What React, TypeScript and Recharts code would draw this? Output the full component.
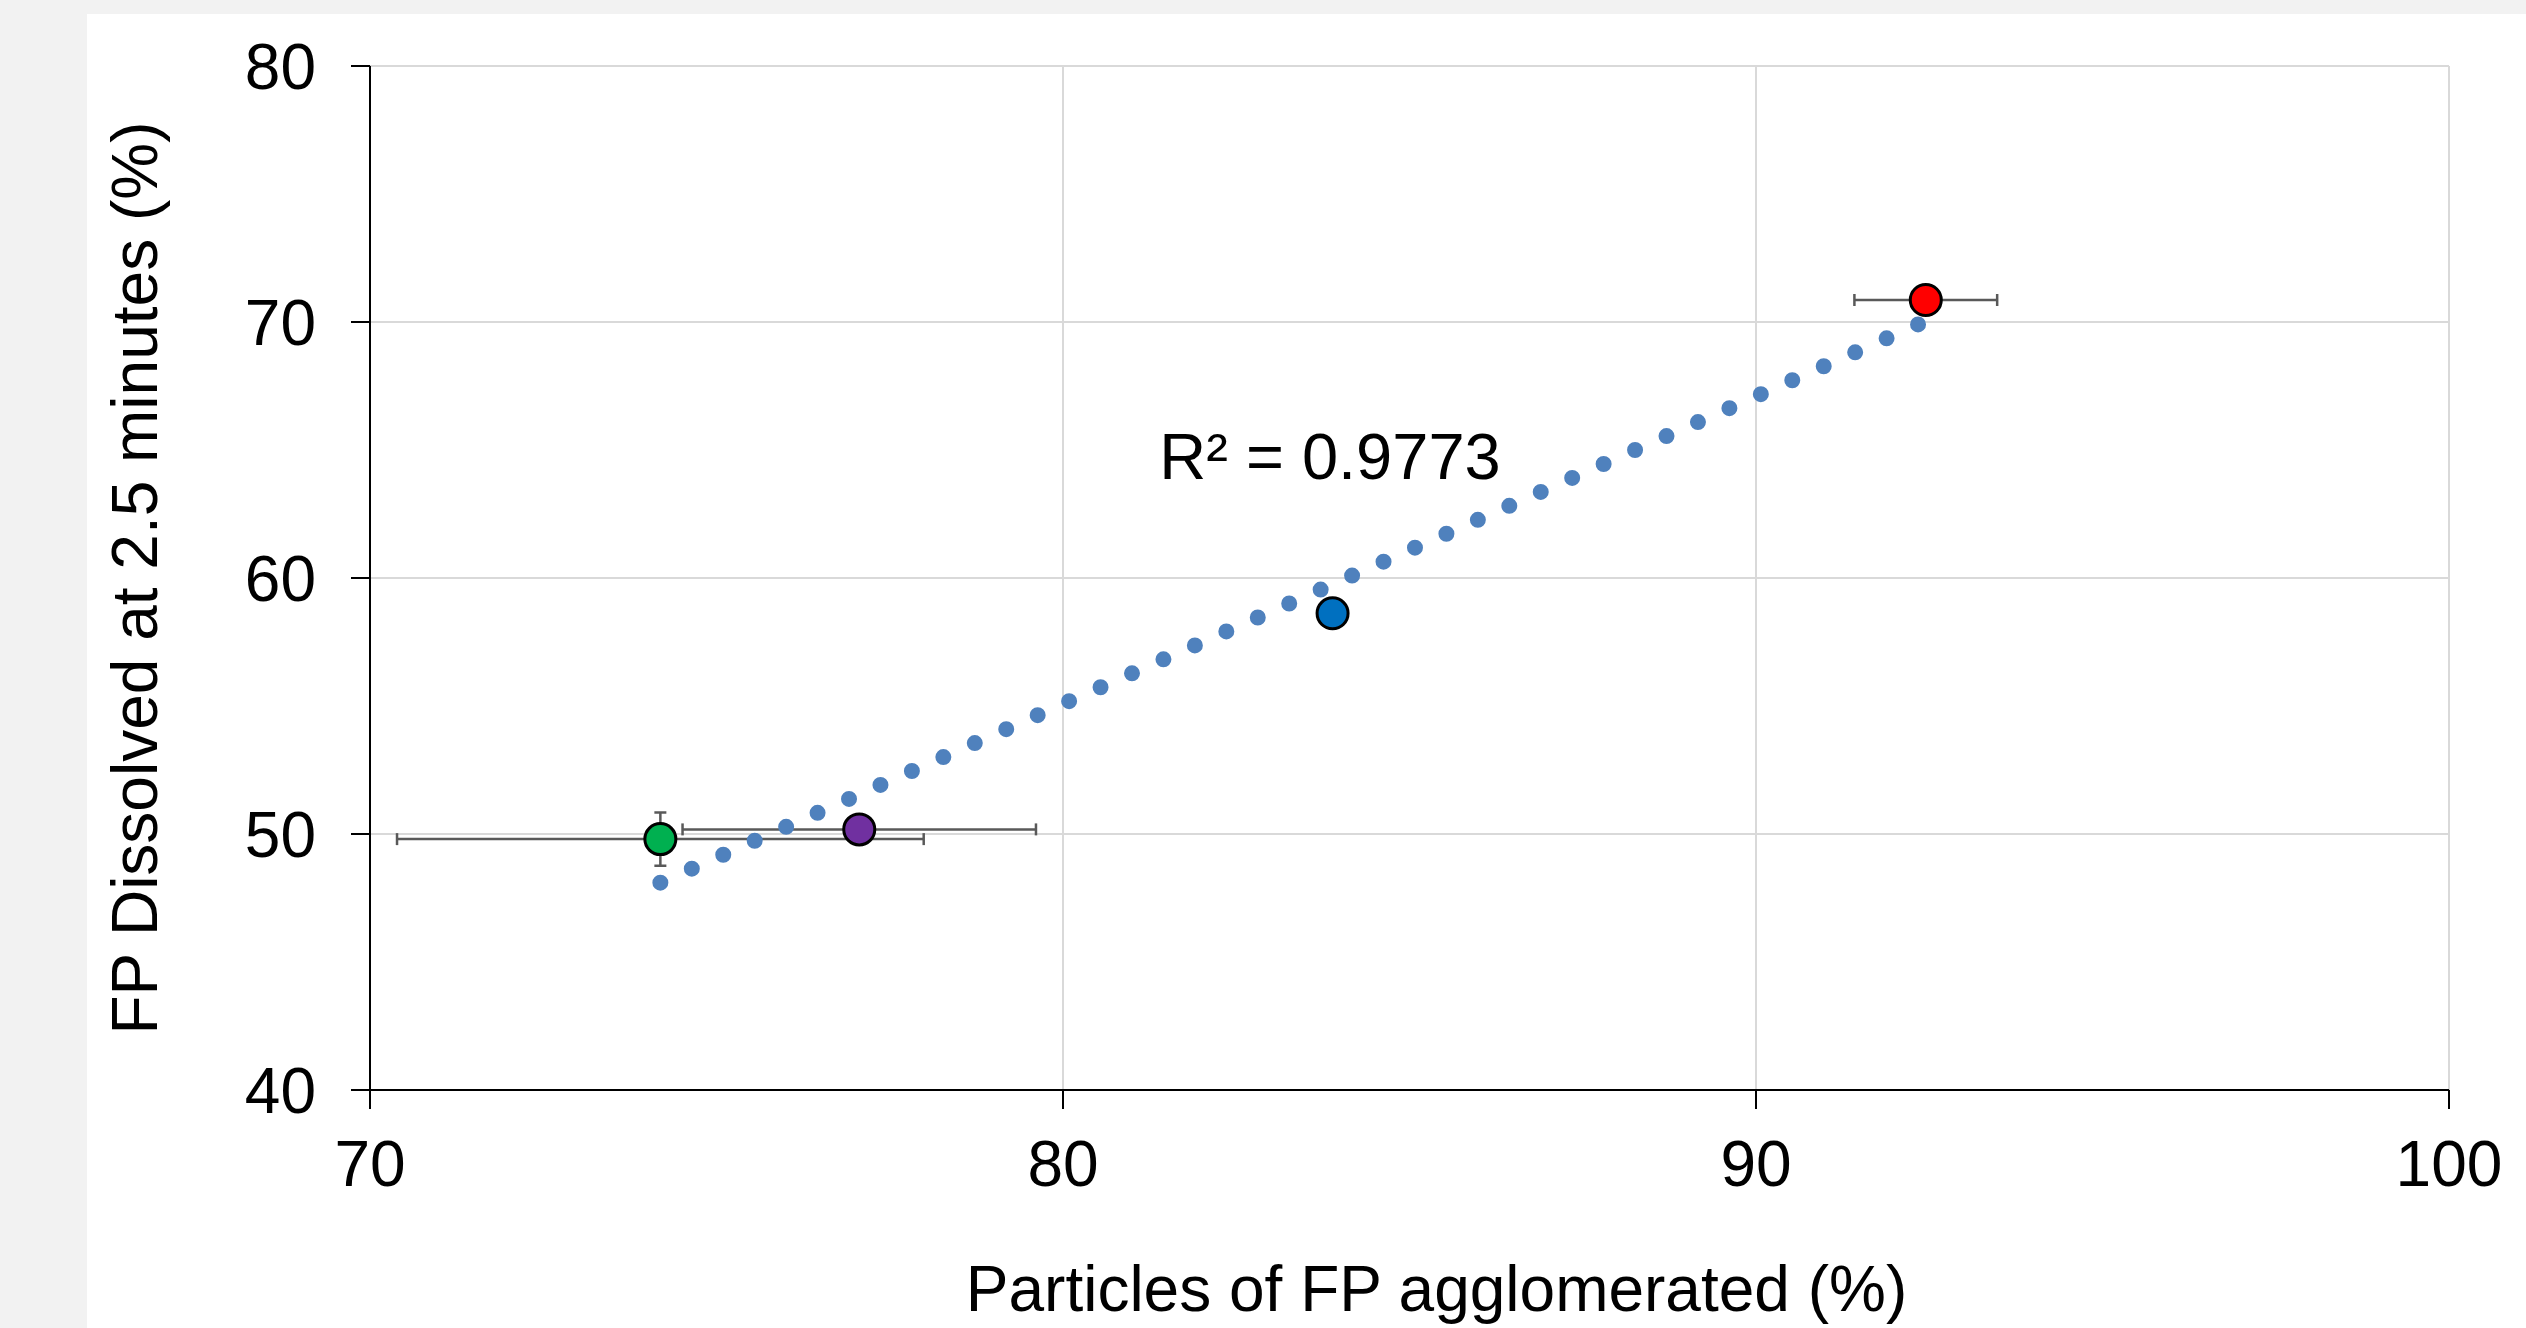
import React from "react";
import {
  ScatterChart,
  Scatter,
  XAxis,
  YAxis,
  CartesianGrid,
  ErrorBar,
  Cell,
  Label,
} from "recharts";

const font = "'Liberation Sans', Arial, sans-serif";

// axes
const xTicks = [70, 80, 90, 100];
const yTicks = [40, 50, 60, 70, 80];

// measured points (green, purple, blue, red)
const agglomerated = [74.19, 77.06, 83.89, 92.45];
const dissolved = [49.8, 50.18, 58.62, 70.86];
const xErrors = [3.8, 2.55, 0, 1.03];
const yErrors = [1.04, 0, 0, 0];
const markerColors = ["#00B050", "#7030A0", "#0070C0", "#FF0000"];

// linear trendline
const trendX = [74.19, 92.45];
const trendY = [48.1, 70.04];
const rSquaredText = "R² = 0.9773";

const points = agglomerated.map((x, i) => ({
  x,
  y: dissolved[i],
  xErr: xErrors[i],
  yErr: yErrors[i],
}));

const trend = trendX.map((x, i) => ({ x, y: trendY[i] }));

const Marker = (props: any) => (
  <circle
    cx={props.cx}
    cy={props.cy}
    r={15.5}
    fill={props.fill}
    stroke="#000"
    strokeWidth={3}
  />
);

export default function App() {
  return (
    <div
      style={{
        position: "absolute",
        left: 0,
        top: 0,
        width: 2526,
        height: 1328,
        background: "#F2F2F2",
        overflow: "hidden",
      }}
    >
      <div
        style={{
          position: "absolute",
          left: 87,
          top: 14,
          width: 2439,
          height: 1314,
          background: "#FFFFFF",
        }}
      />
      <div style={{ position: "absolute", left: 0, top: 0 }}>
        <ScatterChart
          width={2526}
          height={1328}
          margin={{ top: 66, right: 77, left: 100, bottom: 138 }}
        >
          <CartesianGrid stroke="#D9D9D9" strokeWidth={2} />
          <XAxis
            type="number"
            dataKey="x"
            domain={[70, 100]}
            ticks={xTicks}
            height={100}
            tickSize={19}
            tickMargin={32}
            axisLine={{ stroke: "#000", strokeWidth: 2 }}
            tickLine={{ stroke: "#000", strokeWidth: 2 }}
            tick={{ fill: "#000", fontSize: 64, fontFamily: font }}
          >
            <Label
              value="Particles of FP agglomerated (%)"
              position="bottom"
              offset={76}
              dx={27}
              fill="#000"
              fontSize={64}
              fontFamily={font}
            />
          </XAxis>
          <YAxis
            type="number"
            dataKey="y"
            domain={[40, 80]}
            ticks={yTicks}
            width={270}
            tickSize={19}
            tickMargin={35}
            axisLine={{ stroke: "#000", strokeWidth: 2 }}
            tickLine={{ stroke: "#000", strokeWidth: 2 }}
            tick={{ fill: "#000", fontSize: 64, fontFamily: font }}
          >
            <Label
              value="FP Dissolved at 2.5 minutes (%)"
              position="insideLeft"
              offset={34}
              angle={-90}
              fill="#000"
              fontSize={64}
              fontFamily={font}
              style={{ textAnchor: "middle" }}
            />
          </YAxis>
          <Scatter
            data={points}
            shape={Marker}
            isAnimationActive={false}
          >
            {points.map((p, i) => (
              <Cell key={i} fill={markerColors[i]} />
            ))}
            <ErrorBar
              dataKey="xErr"
              direction="x"
              width={6}
              stroke="#595959"
              strokeWidth={2.5}
            />
            <ErrorBar
              dataKey="yErr"
              direction="y"
              width={6}
              stroke="#595959"
              strokeWidth={2.5}
            />
          </Scatter>
          <Scatter
            data={trend}
            fill="#4F81BD"
            line={{
              stroke: "#4F81BD",
              strokeWidth: 16,
              strokeDasharray: "0 34.4",
              strokeLinecap: "round",
            }}
            shape={() => <g />}
            isAnimationActive={false}
          />
        </ScatterChart>
      </div>
      <svg
        width={2526}
        height={1328}
        style={{ position: "absolute", left: 0, top: 0, pointerEvents: "none" }}
      >
        <text
          x={1330}
          y={479}
          textAnchor="middle"
          fontSize={65}
          fontFamily={font}
          fill="#000"
        >
          {rSquaredText}
        </text>
      </svg>
    </div>
  );
}
